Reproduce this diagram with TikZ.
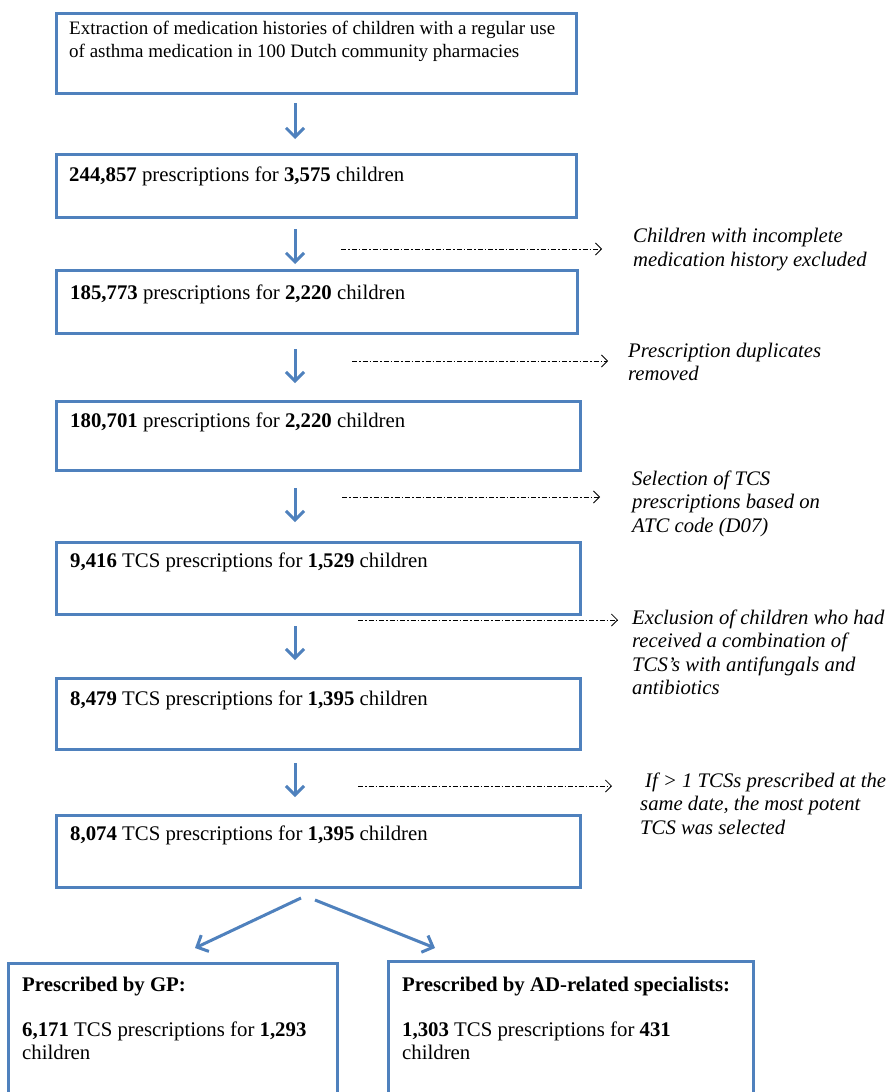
\documentclass[tikz,border=0pt]{standalone}
\usepackage{fontspec}
\setmainfont{Liberation Serif}
\usetikzlibrary{arrows.meta,calc}
\definecolor{boxblue}{HTML}{4F81BD}
\tikzset{
  box/.style={draw=boxblue, line width=3pt, anchor=north west, inner sep=0pt},
  btext/.style={anchor=base west, inner sep=0pt, font=\fontsize{20.8}{23}\selectfont, align=left},
  ttext/.style={anchor=base west, inner sep=0pt, font=\fontsize{19}{23}\selectfont, align=left},
  note/.style={anchor=base west, inner sep=0pt, font=\fontsize{20.7}{23.5}\selectfont\itshape, align=left},
  down/.style={draw=boxblue, line width=3pt, -{Straight Barb[length=9pt,width=18pt]}},
  side/.style={draw=black, line width=0.8pt, dash pattern=on 5pt off 2pt on 1.5pt off 2pt, -{Straight Barb[length=6pt,width=12pt]}}
}
\begin{document}
\begin{tikzpicture}[x=1pt,y=-1pt]
\clip (0,0) rectangle (888,1092);
\fill[white] (0,0) rectangle (888,1092);
% boxes
\node[box, minimum width=520pt, minimum height=80pt] (b1) at (55,12) {};
\node[box, minimum width=520pt, minimum height=63pt] (b2) at (55,153) {};
\node[box, minimum width=521pt, minimum height=63pt] (b3) at (55,269) {};
\node[box, minimum width=524pt, minimum height=69pt] (b4) at (55,400) {};
\node[box, minimum width=524pt, minimum height=72pt] (b5) at (55,541) {};
\node[box, minimum width=524pt, minimum height=71pt] (b6) at (55,677) {};
\node[box, minimum width=524pt, minimum height=72pt] (b7) at (55,814) {};
\node[box, minimum width=329pt, minimum height=200pt] (bl) at (7,962) {};
\node[box, minimum width=365pt, minimum height=200pt] (br) at (387,960) {};
% texts
\node[ttext] (t1) at (69,57) {Extraction of medication histories of children with a regular use\\of asthma medication in 100 Dutch community pharmacies};
\node[btext] (t2) at (69,181) {\textbf{244,857} prescriptions for \textbf{3,575} children};
\node[btext] (t3) at (70,299) {\textbf{185,773} prescriptions for \textbf{2,220} children};
\node[btext] (t4) at (70,427) {\textbf{180,701} prescriptions for \textbf{2,220} children};
\node[btext] (t5) at (70,567) {\textbf{9,416} TCS prescriptions for \textbf{1,529} children};
\node[btext] (t6) at (70,705) {\textbf{8,479} TCS prescriptions for \textbf{1,395} children};
\node[btext] (t7) at (70,840) {\textbf{8,074} TCS prescriptions for \textbf{1,395} children};
\node[btext] (tl1) at (22,991) {\textbf{Prescribed by GP:}};
\node[btext] (tl2) at (22,1059) {\textbf{6,171} TCS prescriptions for \textbf{1,293}\\children};
\node[btext] (tr1) at (402,991) {\textbf{Prescribed by AD-related specialists:}};
\node[btext] (tr2) at (402,1059) {\textbf{1,303} TCS prescriptions for \textbf{431}\\children};
% notes (anchored at the baseline of the last line)
\node[note] (n1) at (633,266) {Children with incomplete\\medication history excluded};
\node[note] (n2) at (628,380.5) {Prescription duplicates\\removed};
\node[note] (n3) at (632,532) {Selection of TCS\\prescriptions based on\\ATC code (D07)};
\node[note] (n4) at (632,694.5) {Exclusion of children who had\\received a combination of\\TCS's with antifungals and\\antibiotics};
\node[note] (n5) at (640,834) {\hspace{5pt}If > 1 TCSs prescribed at the\\same date, the most potent\\TCS was selected};
% down arrows
\coordinate (ax) at (295,0);
\draw[down, shorten <=8pt, shorten >=14pt] (b1.south -| ax) -- (b2.north -| ax);
\draw[down, shorten <=10pt, shorten >=5pt] (b2.south -| ax) -- (b3.north -| ax);
\draw[down, shorten <=14pt, shorten >=17pt] (b3.south -| ax) -- (b4.north -| ax);
\draw[down, shorten <=16pt, shorten >=19pt] (b4.south -| ax) -- (b5.north -| ax);
\draw[down, shorten <=10pt, shorten >=17pt] (b5.south -| ax) -- (b6.north -| ax);
\draw[down, shorten <=12pt, shorten >=17pt] (b6.south -| ax) -- (b7.north -| ax);
% side arrows
\coordinate (s1a) at (341,249); \coordinate (s1b) at (602,249);
\coordinate (s2a) at (352,361); \coordinate (s2b) at (608,361);
\coordinate (s3a) at (342,497); \coordinate (s3b) at (600,497);
\coordinate (s4a) at (358,620); \coordinate (s4b) at (618,620);
\coordinate (s5a) at (358,786); \coordinate (s5b) at (612,786);
\draw[side] (s1a) -- (s1b);
\draw[side] (s2a) -- (s2b);
\draw[side] (s3a) -- (s3b);
\draw[side] (s4a) -- (s4b);
\draw[side] (s5a) -- (s5b);
% split arrows
\coordinate (dl0) at (301,898); \coordinate (dl1) at (195,948);
\coordinate (dr0) at (315,900); \coordinate (dr1) at (435,948);
\draw[down] (dl0) -- (dl1);
\draw[down] (dr0) -- (dr1);
\end{tikzpicture}
\end{document}
